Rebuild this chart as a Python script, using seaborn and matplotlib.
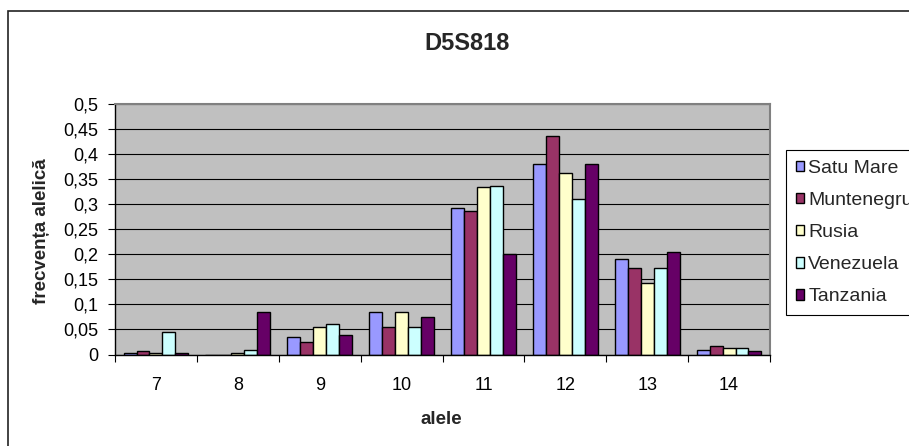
import matplotlib
matplotlib.use("Agg")
import matplotlib.pyplot as plt
import matplotlib.patches as mpatches
from matplotlib.ticker import FixedLocator, FuncFormatter
import numpy as np
import pandas as pd
import seaborn as sns

# Allele frequencies of the D5S818 locus per population
alele = ["7", "8", "9", "10", "11", "12", "13", "14"]
populatii = ["Satu Mare", "Muntenegru", "Rusia", "Venezuela", "Tanzania"]
satu_mare = [0.002, 0.000, 0.035, 0.084, 0.293, 0.380, 0.191, 0.009]
muntenegru = [0.006, 0.000, 0.024, 0.054, 0.287, 0.437, 0.173, 0.016]
rusia = [0.002, 0.003, 0.054, 0.084, 0.335, 0.362, 0.143, 0.013]
venezuela = [0.045, 0.009, 0.061, 0.054, 0.337, 0.311, 0.173, 0.013]
tanzania = [0.002, 0.084, 0.039, 0.075, 0.200, 0.380, 0.205, 0.006]
culori = ["#9999FF", "#993366", "#FFFFCC", "#CCFFFF", "#660066"]

serii = [satu_mare, muntenegru, rusia, venezuela, tanzania]
df = pd.DataFrame(
    [(a, p, v) for p, vals in zip(populatii, serii) for a, v in zip(alele, vals)],
    columns=["alela", "populatie", "frecventa"],
)

sns.set_theme(style="white")
plt.rcParams["font.family"] = ["Liberation Sans", "DejaVu Sans"]

W, H = 909, 446
fig = plt.figure(figsize=(W / 100, H / 100), dpi=100)
fig.patch.set_facecolor("white")

# outer chart frame
fig.patches.append(mpatches.Rectangle(
    (8 / W, -0.1), 1.2, (1 - 11 / H) + 0.1, transform=fig.transFigure,
    fill=False, edgecolor="#222222", linewidth=1.2, zorder=0))

left, right = 115 / W, 770 / W
bottom, top = 1 - 354.5 / H, 1 - 104 / H
ax = fig.add_axes([left, bottom, right - left, top - bottom])
ax.set_facecolor("#C0C0C0")

sns.barplot(data=df, x="alela", y="frecventa", hue="populatie",
            order=alele, hue_order=populatii, palette=culori,
            width=0.79, edgecolor="black", linewidth=1.0, saturation=1,
            errorbar=None, ax=ax)

ax.set_ylim(0, 0.5)
ax.set_xlim(-0.5, len(alele) - 0.5)
yt = np.round(np.arange(0, 0.501, 0.05), 2)
ax.set_yticks(yt)
ax.yaxis.set_major_formatter(FuncFormatter(
    lambda v, _: ("%g" % round(v, 2)).replace(".", ",")))
ax.yaxis.grid(True, color="black", linewidth=0.8)
ax.set_axisbelow(True)

ax.xaxis.set_minor_locator(FixedLocator(np.arange(-0.5, len(alele), 1.0)))
ax.tick_params(axis="x", which="major", length=0, pad=16, labelsize=13,
               colors="black")
ax.tick_params(axis="x", which="minor", length=5, width=0.8, color="black",
               direction="out", bottom=True)
ax.tick_params(axis="y", which="major", length=5, width=0.8, color="black",
               direction="out", left=True, pad=7, labelsize=13,
               labelcolor="black")

for s in ("left", "bottom"):
    ax.spines[s].set_color("black")
    ax.spines[s].set_linewidth(1.0)
for s in ("top", "right"):
    ax.spines[s].set_color("#808080")
    ax.spines[s].set_linewidth(1.5)

ax.set_xlabel("")
ax.set_ylabel("")
fig.text(441.7 / W, 1 - 419 / H, "alele", ha="center", va="center",
         fontsize=13.5, fontweight="bold")
fig.text(41.7 / W, 1 - 231 / H, "frecvența alelică", ha="center", va="center",
         rotation=90, fontsize=13.5, fontweight="bold")
fig.text(466.7 / W, 1 - 43 / H, "D5S818", ha="center", va="center",
         fontsize=17, fontweight="bold")

handles, labels = ax.get_legend_handles_labels()
ax.get_legend().remove()
leg = fig.legend(handles, labels, loc="upper left",
                 bbox_to_anchor=(786 / W, 1 - 150 / H),
                 bbox_transform=fig.transFigure, borderaxespad=0,
                 fontsize=14, frameon=True, fancybox=False, shadow=False,
                 handlelength=0.45, handleheight=0.45, handletextpad=0.2,
                 labelspacing=0.78, borderpad=0.5)
leg.get_frame().set_edgecolor("black")
leg.get_frame().set_linewidth(0.8)
leg.get_frame().set_facecolor("white")
leg.get_frame().set_alpha(1)

fig.savefig("out.png", dpi=100)
